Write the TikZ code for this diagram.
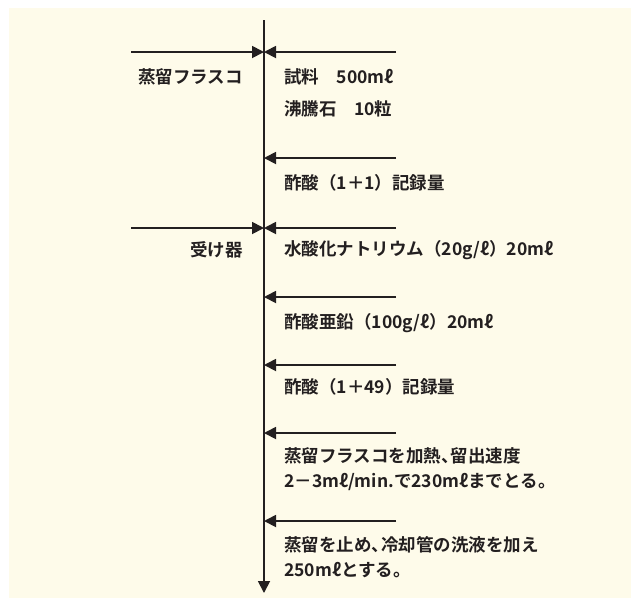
\documentclass[tikz,border=0pt]{standalone}
\usepackage{fontspec}
\setmainfont{Noto Sans CJK JP}[BoldFont={* Bold}]
\usetikzlibrary{arrows.meta}
\definecolor{bgcream}{HTML}{FEFBEA}
\definecolor{ink}{HTML}{231F20}
\newcommand{\tc}{、\kern-0.45em}
\tikzset{
  flow/.style={line width=1.8pt, draw=ink, -{Triangle[length=12pt,width=12pt]}},
  txt/.style={text=ink, font=\fontsize{17.5}{25}\selectfont\bfseries, inner sep=0pt, anchor=west, align=left},
  ltxt/.style={text=ink, font=\fontsize{17.5}{25}\selectfont\bfseries, inner sep=0pt, anchor=east},
}
\begin{document}
\begin{tikzpicture}[x=1pt,y=-1pt]
\useasboundingbox (0,0) rectangle (631,598);
\fill[bgcream] (9,8) rectangle (631,598);
% main line
\coordinate (top) at (264,20);
\coordinate (bot) at (264,593);
\draw[flow] (top) -- (bot);
% arrow coordinates
\coordinate (L1) at (131,52); \coordinate (R1) at (396,52); \coordinate (M1) at (264,52);
\coordinate (R2) at (396,158); \coordinate (M2) at (264,158);
\coordinate (L3) at (131,228); \coordinate (R3) at (396,228); \coordinate (M3) at (264,228);
\coordinate (R4) at (396,297); \coordinate (M4) at (264,297);
\coordinate (R5) at (396,365); \coordinate (M5) at (264,365);
\coordinate (R6) at (396,433); \coordinate (M6) at (264,433);
\coordinate (R7) at (396,521); \coordinate (M7) at (264,521);
\draw[flow] (L1) -- (M1);
\draw[flow] (R1) -- (M1);
\draw[flow] (R2) -- (M2);
\draw[flow] (L3) -- (M3);
\draw[flow] (R3) -- (M3);
\draw[flow] (R4) -- (M4);
\draw[flow] (R5) -- (M5);
\draw[flow] (R6) -- (M6);
\draw[flow] (R7) -- (M7);
% labels
\node[ltxt] (flask) at (243,77) {蒸留フラスコ};
\node[ltxt] (recv) at (243,250) {受け器};
\node[txt] (t1) at (284,77) {試料\quad 500mℓ};
\node[txt] (t2) at (284,109) {沸騰石\quad 10粒};
\node[txt] (t3) at (284,183) {酢酸（1＋1）記録量};
\node[txt] (t4) at (284,250) {水酸化ナトリウム（20g/ℓ）20mℓ};
\node[txt] (t5) at (284,323) {酢酸亜鉛（100g/ℓ）20mℓ};
\node[txt] (t6) at (284,387) {酢酸（1＋49）記録量};
\node[txt] (t7) at (284,469.5) {蒸留フラスコを加熱\tc 留出速度\\2－3mℓ/min.で230mℓまでとる。};
\node[txt] (t8) at (284,557) {蒸留を止め\tc 冷却管の洗液を加え\\250mℓとする。};
\end{tikzpicture}
\end{document}
